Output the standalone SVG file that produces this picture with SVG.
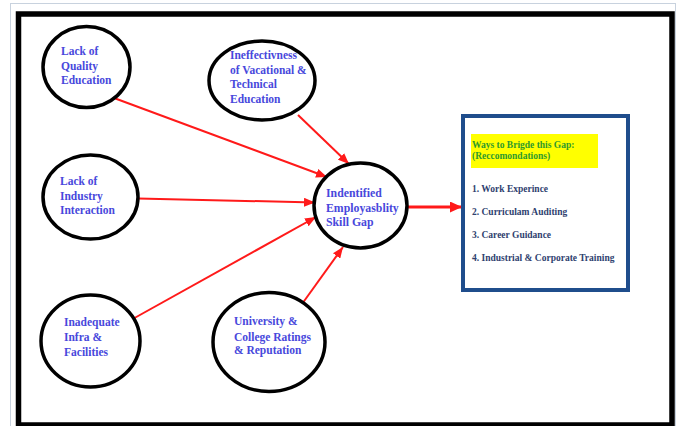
<svg xmlns="http://www.w3.org/2000/svg" width="681" height="426" viewBox="0 0 681 426">
  <style>
    .node { fill: #ffffff; stroke: #000000; stroke-width: 3.5; }
    .lbl { font-family: "Liberation Serif", "Times New Roman", serif; font-weight: bold; font-size: 11.5px; fill: #4848dc; }
    .conn { stroke: #ff1a1a; stroke-width: 2; fill: none; marker-end: url(#arr); }
    .conn2 { stroke: #ff1a1a; stroke-width: 3; fill: none; marker-end: url(#arr2); }
    .head { font-family: "Liberation Serif", "Times New Roman", serif; font-weight: bold; font-size: 9.5px; fill: #2e9a2e; }
    .item { font-family: "Liberation Serif", "Times New Roman", serif; font-weight: bold; font-size: 9.5px; fill: #2f3f6f; }
  </style>
  <defs>
    <marker id="arr" markerUnits="userSpaceOnUse" markerWidth="11" markerHeight="9" refX="11" refY="4.5" orient="auto">
      <path d="M0,0 L11,4.5 L0,9 z" fill="#ff1a1a"/>
    </marker>
    <marker id="arr2" markerUnits="userSpaceOnUse" markerWidth="12" markerHeight="11" refX="12" refY="5.5" orient="auto">
      <path d="M0,0 L12,5.5 L0,11 z" fill="#ff1a1a"/>
    </marker>
  </defs>
  <rect x="0" y="0" width="681" height="426" fill="#ffffff"/>
  <rect x="10.5" y="3.5" width="665" height="424" fill="none" stroke="#c8d2de" stroke-width="1"/>
  <rect x="18.5" y="14" width="653.5" height="411" fill="#ffffff" stroke="#000000" stroke-width="5.5"/>

  <g id="connectors">
    <line class="conn" x1="114" y1="98" x2="327" y2="177"/>
    <line class="conn" x1="298" y1="115" x2="349" y2="164"/>
    <line class="conn" x1="138" y1="198.5" x2="315" y2="202.5"/>
    <line class="conn" x1="134.5" y1="318" x2="316" y2="217"/>
    <line class="conn" x1="302" y1="304" x2="343" y2="247"/>
    <line class="conn2" x1="407" y1="207" x2="462" y2="207"/>
  </g>

  <g id="n-quality">
    <ellipse class="node" cx="86.5" cy="67" rx="43.5" ry="40.5"/>
    <text class="lbl" x="61" y="55">Lack of</text>
    <text class="lbl" x="61" y="70">Quality</text>
    <text class="lbl" x="61" y="84">Education</text>
  </g>
  <g id="n-vocational">
    <ellipse class="node" cx="262" cy="80.5" rx="53" ry="39.5"/>
    <text class="lbl" x="230" y="59">Ineffectivness</text>
    <text class="lbl" x="230" y="74">of Vacational &amp;</text>
    <text class="lbl" x="230" y="88">Technical</text>
    <text class="lbl" x="230" y="103">Education</text>
  </g>
  <g id="n-industry">
    <ellipse class="node" cx="90.5" cy="197" rx="47.5" ry="42"/>
    <text class="lbl" x="60" y="185">Lack of</text>
    <text class="lbl" x="60" y="200">Industry</text>
    <text class="lbl" x="60" y="214">Interaction</text>
  </g>
  <g id="n-gap">
    <ellipse class="node" cx="360.5" cy="205.5" rx="46.5" ry="42.5"/>
    <text class="lbl" x="326" y="197" style="font-size:11.8px">Indentified</text>
    <text class="lbl" x="326" y="212" style="font-size:11.8px">Employasblity</text>
    <text class="lbl" x="326" y="226" style="font-size:11.8px">Skill Gap</text>
  </g>
  <g id="n-infra">
    <ellipse class="node" cx="90.5" cy="341" rx="49.5" ry="46"/>
    <text class="lbl" x="64" y="326">Inadequate</text>
    <text class="lbl" x="64" y="341">Infra &amp;</text>
    <text class="lbl" x="64" y="356">Facilities</text>
  </g>
  <g id="n-ratings">
    <ellipse class="node" cx="269" cy="342" rx="56" ry="49.5"/>
    <text class="lbl" x="234" y="325">University &amp;</text>
    <text class="lbl" x="234" y="341">College Ratings</text>
    <text class="lbl" x="234" y="354">&amp; Reputation</text>
  </g>
  <g id="n-recommendations">
    <rect x="463" y="116" width="165" height="174" fill="#ffffff" stroke="#1f4d8c" stroke-width="4"/>
    <rect x="471" y="134" width="127" height="34" fill="#ffff00"/>
    <text class="head" x="472" y="148">Ways to Brigde this Gap:</text>
    <text class="head" x="472" y="159">(Reccomondations)</text>
    <text class="item" x="472" y="192">1. Work Experince</text>
    <text class="item" x="472" y="215">2. Curriculam Auditing</text>
    <text class="item" x="472" y="238">3. Career Guidance</text>
    <text class="item" x="472" y="261">4. Industrial &amp; Corporate Training</text>
  </g>
</svg>
